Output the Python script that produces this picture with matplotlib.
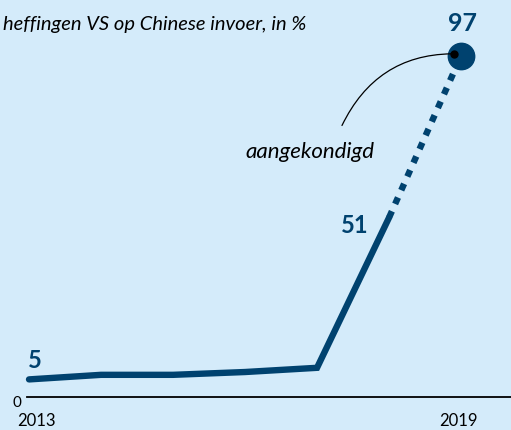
import matplotlib
matplotlib.use("Agg")
import matplotlib.pyplot as plt

# data
years = [2013, 2014, 2015, 2016, 2017, 2018, 2019]
tariffs = [5, 6.3, 6.3, 7.1, 8.3, 51, 97]
labelled = {2013: "5", 2018: "51", 2019: "97"}
tick_years = [2013, 2019]

bg = "#d4ebfa"
blue = "#00426f"

plt.rcParams["font.family"] = ["Lato", "DejaVu Sans"]

fig = plt.figure(figsize=(5.11, 4.30), dpi=100, facecolor=bg)
ax = fig.add_axes([0, 0, 1, 1])
ax.set_facecolor(bg)
ax.set_xlim(2012.597, 2019.694)
ax.set_ylim(-9.39, 112.9)
ax.axis("off")

# actual values (solid) and announced (dotted)
ax.plot(years[:-1], tariffs[:-1], color=blue, lw=4.6, solid_capstyle="round",
        solid_joinstyle="miter", zorder=3)
ax.plot(years[-2:], tariffs[-2:], color=blue, lw=4.6, dashes=(1.1, 1.25),
        dash_capstyle="butt", zorder=3)
ax.plot(years[-1], tariffs[-1], "o", color=blue, ms=19, zorder=4)

# baseline
ax.plot([2012.97, 2019.694], [0, 0], color="black", lw=1.3, zorder=2)

# value labels
ax.text(2012.99, 8.3, labelled[2013], color=blue, fontsize=17, fontweight="bold",
        ha="left", va="baseline")
ax.text(2017.71, 46.7, labelled[2018], color=blue, fontsize=17, fontweight="bold",
        ha="right", va="baseline")
ax.text(2019.02, 104, labelled[2019], color=blue, fontsize=18, fontweight="bold",
        ha="center", va="baseline")

# axis labels
ax.text(2012.9, -1.7, "0", fontsize=11, ha="right", va="center")
for y in tick_years:
    ax.text(y + 0.1 if y == 2013 else y - 0.04, -6.8, str(y), fontsize=12,
            ha="center", va="center")

ax.text(2012.64, 104.4, "heffingen VS op Chinese invoer, in %", fontsize=14.5,
        style="italic", ha="left", va="baseline")

# annotation
ax.annotate("", xy=(2018.9, 97.6), xytext=(2017.33, 76.5),
            arrowprops=dict(arrowstyle="-", color="black", lw=0.9,
                            connectionstyle="angle3,angleA=65,angleB=0"),
            zorder=5)
ax.plot(2018.9, 97.6, "o", color="black", ms=5, zorder=5)
ax.text(2016.9, 68.0, "aangekondigd", fontsize=16, style="italic",
        ha="center", va="baseline")

fig.savefig("out.png", dpi=100, facecolor=bg)
